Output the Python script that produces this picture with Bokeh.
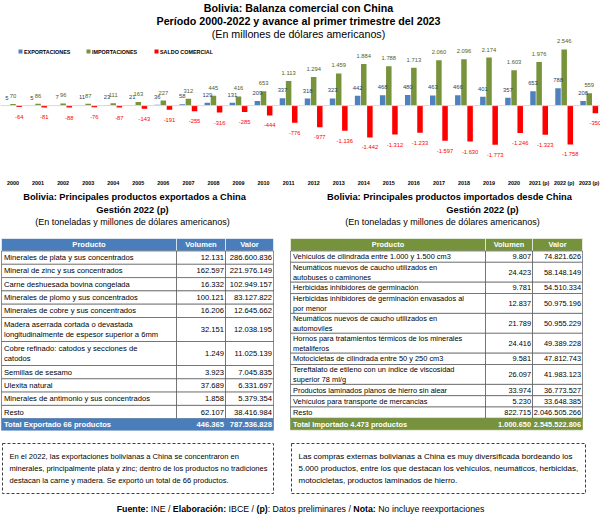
import unicodedata
import numpy as np
from bokeh.plotting import figure
from bokeh.models import Range1d, FixedTicker, ColumnDataSource, Span
from bokeh.layouts import column
from bokeh.transform import dodge
from bokeh.core.properties import value
from bokeh.embed import file_html
from bokeh.resources import INLINE

# ---------------- data ----------------
years = ["2000", "2001", "2002", "2003", "2004", "2005", "2006", "2007", "2008", "2009",
         "2010", "2011", "2012", "2013", "2014", "2015", "2016", "2017", "2018", "2019",
         "2020", "2021 (p)", "2022 (p)", "2023 (p)"]
exportaciones = [5, 5, 7, 11, 23, 21, 36, 58, 129, 131, 209, 337, 318, 323, 442, 468, 480,
                 463, 466, 401, 357, 653, 788, 208]
importaciones = [70, 86, 96, 87, 111, 163, 227, 312, 445, 416, 653, 1113, 1294, 1459, 1884,
                 1788, 1713, 2060, 2096, 2174, 1603, 1976, 2546, 559]
saldo = [-64, -81, -88, -76, -87, -143, -191, -255, -316, -285, -444, -776, -977, -1136,
         -1442, -1312, -1233, -1597, -1630, -1773, -1246, -1323, -1758, -350]
series_names = ["EXPORTACIONES", "IMPORTACIONES", "SALDO COMERCIAL"]

exp_productos = [
    "Minerales de plata y sus concentrados",
    "Mineral de zinc y sus concentrados",
    "Carne deshuesada bovina congelada",
    "Minerales de plomo y sus concentrados",
    "Minerales de cobre y sus concentrados",
    "Madera aserrada cortada o devastada\nlongitudinalmente de espesor superior a 6mm",
    "Cobre refinado: catodos y secciones de\ncatodos",
    "Semillas de sesamo",
    "Ulexita natural",
    "Minerales de antimonio y sus concentrados",
    "Resto",
]
exp_volumen = [12131, 162597, 16332, 100121, 16206, 32151, 1249, 3923, 37689, 1858, 62107]
exp_valor = [286600836, 221976149, 102949157, 83127822, 12645662, 12038195, 11025139,
             7045835, 6331697, 5379354, 38416984]
exp_total = ["Total Exportado 66 productos", 446365, 787536828]

imp_productos = [
    "Vehículos de cilindrada entre 1.000 y 1.500 cm3",
    "Neumáticos nuevos de caucho utilizados en\nautobuses o caminones",
    "Herbicidas inhibidores de germinación",
    "Herbicidas inhibidores de germinación envasados al\npor menor",
    "Neumáticos nuevos de caucho utilizados en\nautomoviles",
    "Hornos para tratamientos térmicos de los minerales\nmetaliferos",
    "Motocicletas de cilindrada entre 50 y 250 cm3",
    "Tereftalato de etileno con un índice de viscosidad\nsuperior 78 ml/g",
    "Productos laminados planos de hierro sin alear",
    "Vehículos para transporte de mercancias",
    "Resto",
]
imp_volumen = [9807, 24423, 9781, 12837, 21789, 24416, 9581, 26097, 33974, 5230, 822715]
imp_valor = [74821626, 58148149, 54510334, 50975196, 50955229, 49389228, 47812743,
             41983123, 36773527, 33648385, 2046505266]
imp_total = ["Total Importado 4.473 productos", 1000650, 2545522806]

table_headers = ["Producto", "Volumen", "Valor"]

texto_exp = ["En el 2022, las exportaciones bolivianas a China se concentraron en",
             "minerales, principalmente plata y zinc; dentro de los productos no tradiciones",
             "destacan la carne y madera. Se exportó un total de 66 productos."]
texto_imp = ["Las compras externas bolivianas a China es muy diversificada bordeando los",
             "5.000 productos, entre los que destacan los vehículos, neumáticos, herbicidas,",
             "motocicletas, productos laminados de hierro."]

footer = [("Fuente:", True), ("INE /", False), ("Elaboración:", True), ("IBCE /", False),
          ("(p)", True), (": Datos preliminares /", False), ("Nota:", True),
          ("No incluye reexportaciones", False)]

# ---------------- helpers ----------------
FONT = "Liberation Sans"

REG = dict(zip(" !\"#$%&'()*+,-./0123456789:;<=>?",
               [278, 278, 355, 556, 556, 889, 667, 191, 333, 333, 389, 584, 278, 333, 278, 278]
               + [556] * 10 + [278, 278, 584, 584, 584, 556]))
REG.update(dict(zip("ABCDEFGHIJKLMNOPQRSTUVWXYZ",
                    [667, 667, 722, 722, 667, 611, 778, 722, 278, 500, 667, 556, 833, 722, 778,
                     667, 778, 722, 667, 611, 722, 667, 944, 667, 667, 611])))
REG.update(dict(zip("abcdefghijklmnopqrstuvwxyz",
                    [556, 556, 500, 556, 556, 278, 556, 556, 222, 222, 500, 222, 833, 556, 556,
                     556, 556, 333, 500, 278, 556, 500, 722, 500, 500, 500])))
BLD = dict(REG)
BLD.update({":": 333, ";": 333})
BLD.update(dict(zip("ABCDEFGHIJKLMNOPQRSTUVWXYZ",
                    [722, 722, 722, 722, 667, 611, 778, 722, 278, 556, 722, 611, 833, 722, 778,
                     667, 778, 722, 667, 611, 722, 667, 944, 667, 667, 611])))
BLD.update(dict(zip("abcdefghijklmnopqrstuvwxyz",
                    [556, 611, 556, 611, 556, 333, 611, 611, 278, 278, 556, 278, 889, 611, 611,
                     611, 611, 389, 556, 333, 611, 556, 778, 556, 556, 500])))


def text_width(s, size, bold=False):
    table = BLD if bold else REG
    tot = 0
    for ch in s:
        base = unicodedata.normalize("NFD", ch)[0]
        tot += table.get(base, 556)
    return tot * size / 1000.0


def fmt(v):
    return f"{v:,}".replace(",", ".")


# ---------------- top chart ----------------
BLUE, GREEN, RED = "#4F81BD", "#77933C", "#FF0000"
idx = list(range(len(years)))
src = ColumnDataSource(dict(
    x=idx, exp=exportaciones, imp=importaciones, sal=saldo,
    exp_lbl=[fmt(v) for v in exportaciones],
    imp_lbl=[fmt(v) for v in importaciones],
    sal_lbl=["-" + fmt(-v) for v in saldo],
))

p1 = figure(width=600, height=188, x_range=Range1d(-0.5, 23.45), y_range=Range1d(-2803, 4761),
            output_backend="svg", toolbar_location=None, y_axis_location=None,
            min_border_left=0, min_border_right=0, min_border_top=0, min_border_bottom=18)
p1.outline_line_color = None
p1.xgrid.visible = False
p1.ygrid.visible = False
p1.extra_x_ranges = {"px": Range1d(0, 600)}
p1.extra_y_ranges = {"px": Range1d(170, 0)}

p1.add_layout(Span(location=0, dimension="width", line_color="#D9D9D9", line_width=1))

W, OFF = 0.22, 0.245
p1.vbar(x=dodge("x", -OFF), top="exp", width=W, source=src, fill_color=BLUE, line_color=None)
p1.vbar(x=dodge("x", 0), top="imp", width=W, source=src, fill_color=GREEN, line_color=None)
p1.vbar(x=dodge("x", OFF), top="sal", width=W, source=src, fill_color=RED, line_color=None)

lbl = dict(source=src, text_align="center", text_baseline="middle",
           text_font=value(FONT), text_font_size="5.8px")
p1.text(x=dodge("x", -OFF), y="exp", text="exp_lbl", y_offset=-8, text_color="#1F3F6B", **lbl)
p1.text(x=dodge("x", 0), y="imp", text="imp_lbl", y_offset=-8, text_color="#4F6228", **lbl)
p1.text(x=dodge("x", OFF), y="sal", text="sal_lbl", y_offset=10, text_color="#FF0000", **lbl)

p1.xaxis.ticker = FixedTicker(ticks=idx)
p1.xaxis.major_label_overrides = {i: y for i, y in enumerate(years)}
p1.xaxis.axis_line_color = None
p1.xaxis.major_tick_line_color = None
p1.xaxis.minor_tick_line_color = None
p1.xaxis.major_label_standoff = 6
p1.xaxis.major_label_text_font = FONT
p1.xaxis.major_label_text_font_style = "bold"
p1.xaxis.major_label_text_font_size = "5.4px"
p1.xaxis.major_label_text_color = "#000000"

px = dict(x_range_name="px", y_range_name="px")
p1.text(x=[298, 298], y=[8, 21],
        text=["Bolivia: Balanza comercial con China",
              "Período 2000-2022 y avance al primer trimestre del 2023"],
        text_align="center", text_baseline="middle", text_font=value(FONT),
        text_font_style="bold", text_font_size="10.7px", text_color="#000000", **px)
p1.text(x=[298], y=[34], text=["(En millones de dólares americanos)"],
        text_align="center", text_baseline="middle", text_font=value(FONT),
        text_font_size="10.7px", text_color="#000000", **px)

# legend
leg_x = [20, 88, 156]
p1.scatter(x=leg_x, y=[52] * 3, marker="square", size=4, color=[BLUE, GREEN, RED],
           line_color=None, **px)
p1.text(x=[x + 3.5 for x in leg_x], y=[52] * 3, text=series_names, text_align="left",
        text_baseline="middle", text_font=value(FONT), text_font_style="bold",
        text_font_size="5.4px", text_color="#000000", **px)

# ---------------- bottom part ----------------
p2 = figure(width=600, height=328, x_range=Range1d(0, 600), y_range=Range1d(516, 188),
            output_backend="svg", toolbar_location=None, x_axis_location=None,
            y_axis_location=None, min_border=0)
p2.outline_line_color = None
p2.grid.visible = False

# table titles
for cx, cx2, title in [(134, 132, "Bolivia: Principales productos exportados a China"),
                       (449, 482, "Bolivia: Principales productos importados desde China")]:
    p2.text(x=[cx, cx2], y=[196, 209], text=[title, "Gestión 2022 (p)"],
            text_align="center", text_baseline="middle", text_font=value(FONT),
            text_font_style="bold", text_font_size="9.3px", text_color="#000000")
p2.text(x=[132, 442], y=[221, 221],
        text=["(En toneladas y millones de dólares americanos)"] * 2,
        text_align="center", text_baseline="middle", text_font=value(FONT),
        text_font_size="9px", text_color="#000000")


def draw_table(p, xe, y_top, hdr_h, s_h, d_h, tot_h, prods, vols, vals, total, color, fs):
    xl, xa, xb, xr = xe
    p.quad(left=[xl, xa, xb], right=[xa, xb, xr], top=[y_top] * 3,
           bottom=[y_top + hdr_h] * 3, fill_color=color, line_color="#FFFFFF",
           line_width=0.6)
    p.text(x=[(xl + xa) / 2, (xa + xb) / 2, (xb + xr) / 2], y=[y_top + hdr_h / 2] * 3,
           text=table_headers, text_align="center", text_baseline="middle",
           text_font=value(FONT), text_font_style="bold", text_font_size=f"{fs}px",
           text_color="#FFFFFF")
    heights = np.array([d_h if "\n" in s else s_h for s in prods], dtype=float)
    tops = y_top + hdr_h + np.concatenate([[0.0], np.cumsum(heights)[:-1]])
    bots = tops + heights
    n = len(prods)
    p.quad(left=[xl] * n + [xa] * n + [xb] * n, right=[xa] * n + [xb] * n + [xr] * n,
           top=list(tops) * 3, bottom=list(bots) * 3, fill_color="#FFFFFF",
           line_color="#3F3F3F", line_width=0.6)
    mids = list((tops + bots) / 2)
    p.text(x=[xl + 2.5] * n, y=mids, text=prods, text_align="left", text_baseline="middle",
           text_font=value(FONT), text_font_size=f"{fs}px", text_color="#000000",
           text_line_height=1.15)
    p.text(x=[xb - 1.5] * n, y=mids, text=[fmt(v) for v in vols], text_align="right",
           text_baseline="middle", text_font=value(FONT), text_font_size=f"{fs}px",
           text_color="#000000")
    p.text(x=[xr - 1.5] * n, y=mids, text=[fmt(v) for v in vals], text_align="right",
           text_baseline="middle", text_font=value(FONT), text_font_size=f"{fs}px",
           text_color="#000000")
    ty = bots[-1]
    p.quad(left=[xl], right=[xr], top=[ty], bottom=[ty + tot_h], fill_color=color,
           line_color=color, line_width=0.6)
    tm = ty + tot_h / 2
    p.text(x=[xl + 2.5, xb - 1.5, xr - 1.5], y=[tm] * 3,
           text=[total[0], fmt(total[1]), fmt(total[2])],
           text_align=["left", "right", "right"], text_baseline="middle",
           text_font=value(FONT), text_font_style="bold", text_font_size=f"{fs}px",
           text_color="#FFFFFF")


draw_table(p2, (1, 176, 225, 273), 238, 12.5, 13.3, 24, 11.5, exp_productos, exp_volumen,
           exp_valor, exp_total, "#4A7EBB", 7.6)
draw_table(p2, (290, 485, 532, 582), 238, 12.5, 11.3, 19.9, 11.5, imp_productos, imp_volumen,
           imp_valor, imp_total, "#76923C", 7.4)

# text boxes
boxes = [(2, 273, texto_exp), (291, 585, texto_imp)]
p2.quad(left=[b[0] for b in boxes], right=[b[1] for b in boxes], top=[443, 443],
        bottom=[493, 493], fill_color=None, line_color="#404040", line_width=1,
        line_dash="3 2")
for x0, x1, lines in boxes:
    avail = (x1 - x0) - 13
    fs_box = min(8.0, min(avail / text_width(t, 1.0) for t in lines))
    p2.text(x=[x0 + 7] * 3, y=[456, 468, 480], text=lines, text_align="left",
            text_baseline="middle", text_font=value(FONT), text_font_size=f"{fs_box:.2f}px",
            text_color="#000000")

# footer with mixed bold / regular pieces
FS = 8.8
gap = text_width(" ", FS)
widths = [text_width(t, FS, b) for t, b in footer]
total_w = sum(widths) + gap * (len(footer) - 1) - gap
xs = []
cur = 300 - total_w / 2
for i, (t, b) in enumerate(footer):
    xs.append(cur)
    cur += widths[i]
    if t != "(p)":
        cur += gap
for bold in (True, False):
    sel = [i for i, (t, b) in enumerate(footer) if b == bold]
    p2.text(x=[xs[i] for i in sel], y=[508] * len(sel), text=[footer[i][0] for i in sel],
            text_align="left", text_baseline="middle", text_font=value(FONT),
            text_font_style="bold" if bold else "normal", text_font_size=f"{FS}px",
            text_color="#000000")

layout = column(p1, p2, spacing=0)
open("out.html", "w").write(file_html(layout, INLINE))
